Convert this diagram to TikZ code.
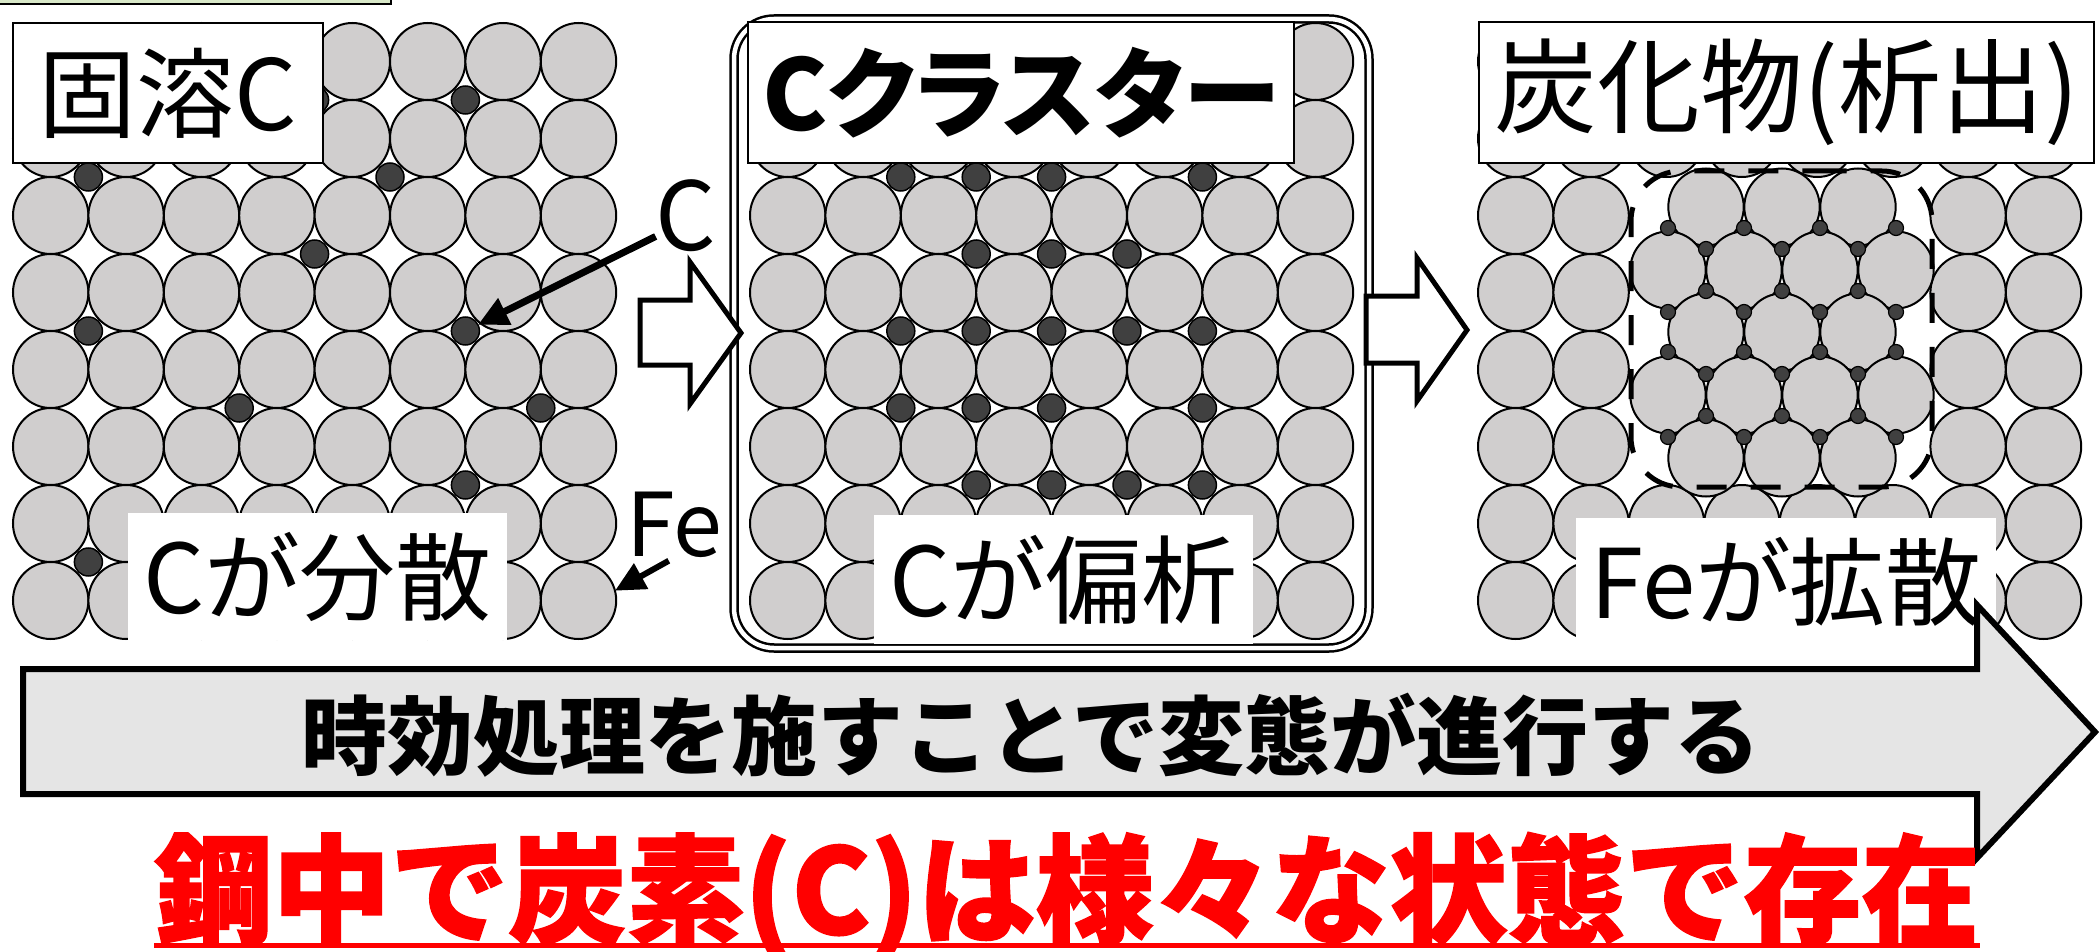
\documentclass[tikz,border=0pt]{standalone}
\usepackage{fontspec}
\setmainfont{Noto Sans CJK JP}
\newfontfamily\jpprop{Noto Sans CJK JP}[RawFeature=+palt]
\usetikzlibrary{arrows.meta,shapes.geometric}

\definecolor{fegray}{RGB}{208,206,206}
\definecolor{cdark}{RGB}{64,64,64}
\definecolor{bandgray}{RGB}{229,229,229}
\definecolor{tabgreen}{RGB}{216,232,200}
\definecolor{alertred}{RGB}{255,0,0}

\tikzset{
  fe/.style={ellipse, draw=black, line width=2pt, fill=fegray,
    minimum width=75.4pt, minimum height=77pt, inner sep=0pt, outer sep=0pt},
  cdot/.style={circle, draw=black, line width=1.5pt, fill=cdark,
    minimum size=28pt, inner sep=0pt, outer sep=0pt},
  csmall/.style={circle, draw=black, line width=1.2pt, fill=cdark,
    minimum size=15pt, inner sep=0pt, outer sep=0pt},
  titlebox/.style={draw=black, line width=2pt, fill=white, inner sep=0pt},
  notebox/.style={fill=white, inner sep=0pt},
  hollow/.style={draw=black, line width=5pt, fill=white, line join=miter},
  pointer/.style={draw=black, line width=7pt,
    -{Triangle[length=30pt,width=28pt]}},
  atomlabel/.style={inner sep=0pt, outer sep=0pt},
}

\begin{document}
\begin{tikzpicture}[x=1pt,y=-1pt]
\useasboundingbox (0,0) rectangle (2099,952);
\clip (0,0) rectangle (2099,952);

% tab at the top edge
\draw[fill=tabgreen, line width=2pt] (-10,-50) rectangle (391,4);

% panel 1: iron lattice with dispersed carbon
\foreach \r in {1,...,8}{\foreach \c in {1,...,8}{
  \node[fe] (fa-\r-\c) at ({13+37.7+75.4*(\c-1)},{61.5+77*(\r-1)}) {};
}}
\foreach \k/\i in {4/1,6/1,1/2,5/2,4/3,1/4,6/4,3/5,7/5,6/6,1/7}{
  \node[cdot] (ca-\k-\i) at ({13+75.4*\k},{23+77*\i}) {};
}

% panel 2: iron lattice with segregated carbon
\foreach \r in {1,...,8}{\foreach \c in {1,...,8}{
  \node[fe] (fb-\r-\c) at ({750+37.7+75.4*(\c-1)},{61.5+77*(\r-1)}) {};
}}
\foreach \k/\i in {2/2,3/2,4/2,6/2, 3/3,4/3,5/3, 2/4,3/4,4/4,5/4,6/4,
                   2/5,3/5,4/5,6/5, 3/6,4/6,5/6,6/6}{
  \node[cdot] (cb-\k-\i) at ({750+75.4*\k},{23+77*\i}) {};
}

% panel 3: iron lattice around a carbide precipitate
\foreach \r in {1,...,8}{\foreach \c in {1,...,8}{
  \pgfmathtruncatemacro{\hole}{and(and(\r>2,\r<7),and(\c>2,\c<7))}
  \ifnum\hole=0
    \node[fe] (fc-\r-\c) at ({1478+37.7+75.4*(\c-1)},{61.5+77*(\r-1)}) {};
  \fi
}}
\foreach \y/\n [count=\j] in {207/3,270/4,332/3,395/4,458/3}{
  \foreach \m in {1,...,\n}{
    \node[fe] (pr-\j-\m) at ({1782+76*(\m-(\n+1)/2)},\y) {};
  }
}
\foreach \y/\n [count=\j] in {228/4,249/3,291/3,312/4,352/4,374/3,416/3,437/4}{
  \foreach \m in {1,...,\n}{
    \node[csmall] (pc-\j-\m) at ({1782+76*(\m-(\n+1)/2)},\y) {};
  }
}
\draw[line width=5pt, dash pattern=on 30pt off 24pt, dash phase=15pt,
      rounded corners=50pt]
  (1781.5,171) -- (1932,171) -- (1932,487) -- (1631,487) -- (1631,171) -- cycle;

% double frame round panel 2
\draw[line width=2.5pt, double=white, double distance=4.5pt, rounded corners=40pt]
  (734,19) rectangle (1369,648);

% panel titles
\node[titlebox, minimum width=310pt, minimum height=140pt] (solute) at (168,93)
  {\fontsize{98pt}{98pt}\selectfont\raisebox{-4pt}{固溶C}};
\node[titlebox, minimum width=546pt, minimum height=141pt] (cluster) at (1021,92.5)
  {\jpprop\bfseries\fontsize{98pt}{98pt}\selectfont\raisebox{-3pt}{Cクラスター}};
\node[titlebox, minimum width=615pt, minimum height=141pt] (carbide) at (1786.5,92.5)
  {\fontsize{103pt}{103pt}\selectfont\raisebox{-4pt}{炭化物(析出)}};

% panel notes
\node[notebox, minimum width=379pt, minimum height=127pt] (disperse) at (317.5,576.5)
  {\jpprop\fontsize{96pt}{96pt}\selectfont Cが分散};
\node[notebox, minimum width=379pt, minimum height=129pt] (segregate) at (1063.5,579.5)
  {\jpprop\fontsize{96pt}{96pt}\selectfont Cが偏析};
\node[notebox, minimum width=420pt, minimum height=127pt] (diffuse) at (1786,581.5)
  {\jpprop\fontsize{96pt}{96pt}\selectfont Feが拡散};

% stage arrows
\draw[hollow] (640,300) -- (690,300) -- (690,262) -- (741,333) -- (690,404)
  -- (690,365) -- (640,365) -- cycle;
\draw[hollow] (1366,296) -- (1417,296) -- (1417,258) -- (1467,330) -- (1417,401)
  -- (1417,363) -- (1366,363) -- cycle;

% atom labels and pointers
\node[atomlabel] (catom) at (686,216) {\fontsize{95pt}{95pt}\selectfont C};
\node[atomlabel] (featom) at (674,525) {\fontsize{88pt}{88pt}\selectfont Fe};
\draw[pointer] (catom.214) -- (ca-6-4);
\draw[pointer, line width=6pt, shorten <=6pt] (featom.south) -- (fa-8-8.15);

% time axis arrow
\draw[line width=6pt, fill=bandgray, line join=miter]
  (23,669) -- (1977,669) -- (1977,605) -- (2095,732) -- (1977,858)
  -- (1977,794) -- (23,794) -- cycle;
\node[inner sep=0pt] (process) at (1031,735)
  {\bfseries\fontsize{86pt}{86pt}\selectfont 時効処理を施すことで変態が進行する};

% conclusion
\node[anchor=base, inner sep=0pt, text=alertred] (summary) at (1067,934)
  {\bfseries\addfontfeature{FakeBold=1.5}\fontsize{118pt}{118pt}\selectfont 鋼中で炭素(C)は様々な状態で存在};
\draw[alertred, line width=5pt]
  ([yshift=-11.5pt]summary.base west) -- ([yshift=-11.5pt]summary.base east);
\end{tikzpicture}
\end{document}
